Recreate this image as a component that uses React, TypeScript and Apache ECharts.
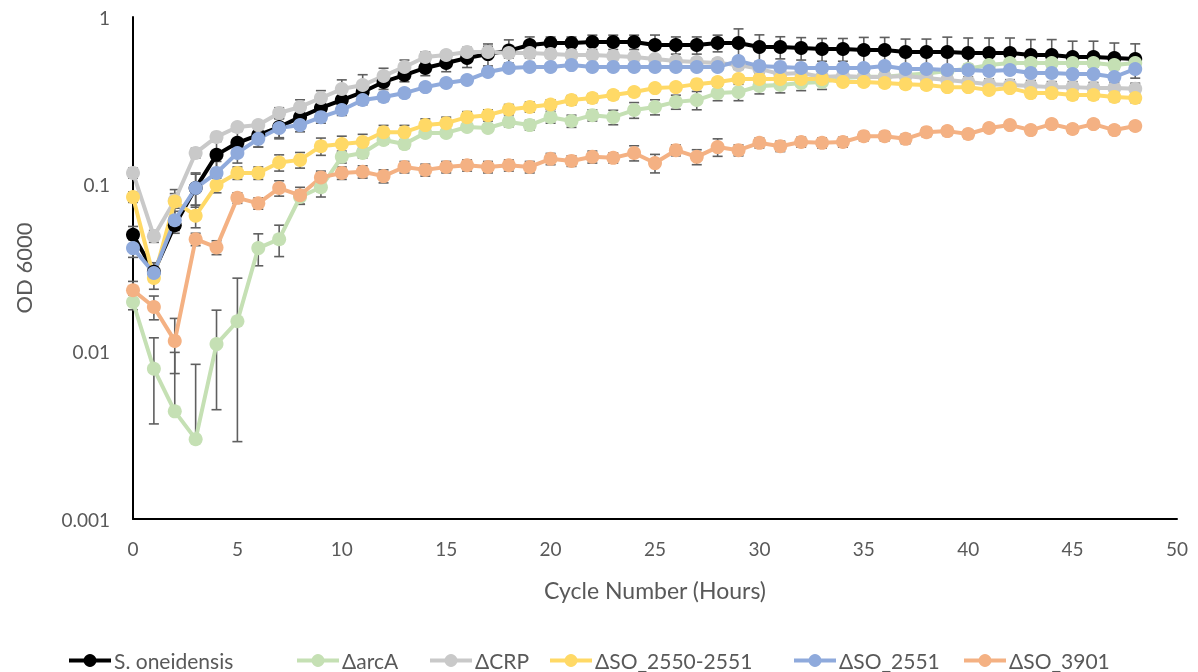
import { useEffect, useRef } from "react";
import * as echarts from "echarts";

const hours = [0, 1, 2, 3, 4, 5, 6, 7, 8, 9, 10, 11, 12, 13, 14, 15, 16, 17, 18, 19, 20, 21, 22, 23, 24, 25, 26, 27, 28, 29, 30, 31, 32, 33, 34, 35, 36, 37, 38, 39, 40, 41, 42, 43, 44, 45, 46, 47, 48];

const seriesNames = ["S. oneidensis", "ΔarcA", "ΔCRP", "ΔSO_2550-2551", "ΔSO_2551", "ΔSO_3901"];
const seriesColors = ["#000000", "#C5E0B4", "#C9C9C9", "#FFD966", "#8FAADC", "#F4B183"];

const sOneidensis = [0.050, 0.030, 0.057, 0.095, 0.150, 0.177, 0.197, 0.220, 0.252, 0.286, 0.319, 0.356, 0.409, 0.450, 0.496, 0.531, 0.569, 0.600, 0.630, 0.680, 0.699, 0.699, 0.709, 0.709, 0.709, 0.680, 0.680, 0.680, 0.699, 0.699, 0.662, 0.662, 0.653, 0.644, 0.644, 0.635, 0.635, 0.618, 0.618, 0.618, 0.609, 0.609, 0.609, 0.593, 0.593, 0.577, 0.577, 0.569, 0.561];
const arcA = [0.0198, 0.0079, 0.0044, 0.0030, 0.0111, 0.0152, 0.0416, 0.047, 0.084, 0.096, 0.146, 0.154, 0.184, 0.174, 0.203, 0.203, 0.220, 0.217, 0.236, 0.226, 0.252, 0.239, 0.259, 0.252, 0.278, 0.290, 0.311, 0.319, 0.351, 0.356, 0.387, 0.392, 0.403, 0.409, 0.432, 0.440, 0.440, 0.450, 0.460, 0.476, 0.490, 0.516, 0.531, 0.531, 0.531, 0.531, 0.531, 0.516, 0.531];
const crp = [0.117, 0.049, 0.080, 0.154, 0.192, 0.220, 0.226, 0.267, 0.290, 0.328, 0.371, 0.392, 0.444, 0.503, 0.577, 0.593, 0.618, 0.618, 0.609, 0.609, 0.601, 0.593, 0.593, 0.585, 0.577, 0.561, 0.546, 0.538, 0.531, 0.516, 0.490, 0.456, 0.463, 0.438, 0.444, 0.438, 0.438, 0.444, 0.432, 0.420, 0.409, 0.397, 0.392, 0.387, 0.381, 0.381, 0.376, 0.376, 0.372];
const so2550 = [0.084, 0.0276, 0.079, 0.065, 0.099, 0.117, 0.117, 0.135, 0.140, 0.169, 0.174, 0.179, 0.205, 0.205, 0.226, 0.232, 0.252, 0.259, 0.280, 0.290, 0.300, 0.319, 0.328, 0.342, 0.356, 0.376, 0.381, 0.397, 0.409, 0.426, 0.426, 0.426, 0.426, 0.426, 0.409, 0.409, 0.403, 0.397, 0.392, 0.381, 0.381, 0.366, 0.376, 0.351, 0.351, 0.342, 0.342, 0.333, 0.328];
const so2551 = [0.0416, 0.0295, 0.061, 0.095, 0.117, 0.154, 0.187, 0.217, 0.226, 0.252, 0.278, 0.319, 0.333, 0.351, 0.381, 0.403, 0.420, 0.469, 0.496, 0.503, 0.503, 0.516, 0.503, 0.503, 0.503, 0.503, 0.503, 0.503, 0.503, 0.546, 0.509, 0.503, 0.496, 0.496, 0.496, 0.496, 0.509, 0.489, 0.489, 0.482, 0.482, 0.476, 0.482, 0.463, 0.463, 0.456, 0.456, 0.438, 0.489];
const so3901 = [0.0233, 0.0185, 0.0116, 0.047, 0.042, 0.083, 0.077, 0.095, 0.086, 0.110, 0.117, 0.119, 0.112, 0.127, 0.122, 0.127, 0.130, 0.127, 0.130, 0.127, 0.142, 0.138, 0.146, 0.144, 0.154, 0.134, 0.160, 0.146, 0.167, 0.160, 0.177, 0.169, 0.179, 0.177, 0.179, 0.194, 0.194, 0.187, 0.205, 0.208, 0.200, 0.217, 0.226, 0.211, 0.229, 0.214, 0.229, 0.211, 0.223];

// standard deviations (error bars)
const sOneidensisErr = [0.006, 0.004, 0.006, 0.022, 0.03, 0.03, 0.03, 0.03, 0.03, 0.03, 0.035, 0.035, 0.04, 0.04, 0.05, 0.06, 0.07, 0.09, 0.1, 0.08, 0.06, 0.06, 0.07, 0.07, 0.07, 0.1, 0.08, 0.08, 0.08, 0.15, 0.12, 0.1, 0.1, 0.1, 0.1, 0.12, 0.12, 0.12, 0.12, 0.14, 0.14, 0.14, 0.14, 0.14, 0.14, 0.14, 0.14, 0.13, 0.13];
const arcAErr = [0.002, 0.0042, 0.0055, 0.0054, 0.0066, 0.0123, 0.009, 0.01, 0.008, 0.012, 0.012, 0.01, 0.01, 0.01, 0.01, 0.01, 0.01, 0.01, 0.015, 0.015, 0.02, 0.02, 0.02, 0.025, 0.03, 0.03, 0.03, 0.04, 0.035, 0.04, 0.04, 0.04, 0.04, 0.04, 0.04, 0.04, 0.04, 0.04, 0.03, 0.03, 0.03, 0.03, 0.03, 0.03, 0.03, 0.03, 0.03, 0.03, 0.03];
const crpErr = [0.008, 0.004, 0.008, 0.01, 0.01, 0.01, 0.01, 0.02, 0.03, 0.035, 0.05, 0.06, 0.05, 0.05, 0.04, 0.03, 0.04, 0.05, 0.04, 0.04, 0.03, 0.03, 0.03, 0.03, 0.03, 0.03, 0.03, 0.03, 0.03, 0.03, 0.03, 0.03, 0.03, 0.03, 0.03, 0.03, 0.03, 0.03, 0.03, 0.03, 0.03, 0.03, 0.03, 0.03, 0.03, 0.03, 0.03, 0.03, 0.03];
const so2550Err = [0.006, 0.004, 0.014, 0.01, 0.01, 0.01, 0.01, 0.015, 0.015, 0.02, 0.02, 0.02, 0.02, 0.02, 0.02, 0.02, 0.02, 0.02, 0.02, 0.02, 0.02, 0.02, 0.02, 0.02, 0.02, 0.02, 0.02, 0.02, 0.02, 0.02, 0.02, 0.02, 0.02, 0.02, 0.02, 0.02, 0.02, 0.02, 0.02, 0.02, 0.02, 0.02, 0.02, 0.02, 0.02, 0.02, 0.02, 0.02, 0.02];
const so2551Err = [0.005, 0.003, 0.008, 0.02, 0.02, 0.02, 0.02, 0.03, 0.02, 0.02, 0.02, 0.02, 0.02, 0.02, 0.02, 0.02, 0.02, 0.02, 0.02, 0.02, 0.02, 0.02, 0.02, 0.02, 0.02, 0.02, 0.02, 0.02, 0.02, 0.02, 0.02, 0.02, 0.02, 0.02, 0.02, 0.02, 0.02, 0.02, 0.02, 0.02, 0.02, 0.02, 0.02, 0.02, 0.02, 0.02, 0.02, 0.02, 0.02];
const so3901Err = [0.003, 0.003, 0.0042, 0.004, 0.004, 0.006, 0.006, 0.01, 0.01, 0.01, 0.01, 0.01, 0.01, 0.01, 0.01, 0.01, 0.01, 0.01, 0.01, 0.01, 0.011, 0.01, 0.012, 0.01, 0.016, 0.017, 0.012, 0.015, 0.02, 0.012, 0.012, 0.012, 0.012, 0.012, 0.012, 0.012, 0.012, 0.012, 0.012, 0.012, 0.012, 0.012, 0.012, 0.012, 0.012, 0.012, 0.012, 0.012, 0.012];

const yTickLabels = ["0.001", "0.01", "0.1", "1"];
const xAxisTitle = "Cycle Number (Hours)";
const yAxisTitle = "OD 6000";

const allValues = [sOneidensis, arcA, crp, so2550, so2551, so3901];
const allErrors = [sOneidensisErr, arcAErr, crpErr, so2550Err, so2551Err, so3901Err];
const legendLefts = [62, 290, 423, 543, 787, 957];

const FONT = "Lato, 'Liberation Sans', sans-serif";
const TEXT_COLOR = "#595959";
const ERR_COLOR = "#5f5f5f";

function errorRender(params: any, api: any) {
  const x = api.value(0);
  const v = api.value(1);
  const e = api.value(2);
  const hi = api.coord([x, v + e]);
  const hasLow = v - e > 0;
  const lo = hasLow ? api.coord([x, v - e]) : api.coord([x, v]);
  const half = 5;
  const style = { stroke: ERR_COLOR, lineWidth: 1.6 };
  const children: any[] = [
    { type: "line", shape: { x1: hi[0], y1: hi[1], x2: lo[0], y2: lo[1] }, style },
    { type: "line", shape: { x1: hi[0] - half, y1: hi[1], x2: hi[0] + half, y2: hi[1] }, style },
  ];
  if (hasLow) {
    children.push({ type: "line", shape: { x1: lo[0] - half, y1: lo[1], x2: lo[0] + half, y2: lo[1] }, style });
  }
  return { type: "group", children };
}

export default function App() {
  const ref = useRef<HTMLDivElement>(null);
  useEffect(() => {
    const chart = echarts.init(ref.current!, null, { renderer: "svg" });
    const series: any[] = [];
    seriesNames.forEach((name, k) => {
      const vals = allValues[k];
      const errs = allErrors[k];
      series.push({
        type: "custom",
        name: name + " error",
        renderItem: errorRender,
        encode: { x: 0, y: 1 },
        data: hours.map((h, i) => [h, vals[i], errs[i]]),
        silent: true,
      });
      series.push({
        type: "line",
        name,
        data: hours.map((h, i) => [h, vals[i]]),
        symbol: "circle",
        symbolSize: 14,
        showSymbol: true,
        lineStyle: { width: 4, color: seriesColors[k] },
        itemStyle: { color: seriesColors[k] },
        color: seriesColors[k],
      });
    });

    chart.setOption({
      animation: false,
      textStyle: { fontFamily: FONT },
      grid: { left: 133, right: 21, top: 17, bottom: 153, containLabel: false },
      legend: seriesNames.map((name, k) => ({
        data: [name],
        left: legendLefts[k],
        top: 645,
        itemWidth: 42,
        itemHeight: 16,
        itemGap: 0,
        itemStyle: { borderWidth: 0 },
        lineStyle: { width: 4 },
        textStyle: { fontSize: 21, color: TEXT_COLOR, fontFamily: FONT, padding: [0, 0, 0, -2] },
      })),
      xAxis: {
        type: "value",
        min: 0,
        max: 50,
        interval: 5,
        name: xAxisTitle,
        nameLocation: "middle",
        nameGap: 59,
        nameTextStyle: { fontSize: 23, color: TEXT_COLOR, fontFamily: FONT },
        axisLine: { show: true, onZero: false, lineStyle: { color: "#000", width: 2 } },
        axisTick: { show: false },
        splitLine: { show: false },
        axisLabel: { fontSize: 19, color: TEXT_COLOR, margin: 20, fontFamily: FONT },
      },
      yAxis: {
        type: "log",
        logBase: 10,
        min: 0.001,
        max: 1,
        name: yAxisTitle,
        nameLocation: "middle",
        nameGap: 99,
        nameTextStyle: { fontSize: 22, color: TEXT_COLOR, fontFamily: FONT },
        axisLine: { show: true, lineStyle: { color: "#000", width: 2 } },
        axisTick: { show: false },
        splitLine: { show: false },
        minorTick: { show: false },
        axisLabel: {
          fontSize: 19,
          color: TEXT_COLOR,
          margin: 23,
          fontFamily: FONT,
          formatter: (v: number) => {
            const idx = Math.round(Math.log10(v)) + 3;
            return yTickLabels[idx] ?? String(v);
          },
        },
      },
      series,
    });
    return () => chart.dispose();
  }, []);
  return <div ref={ref} style={{ position: "fixed", left: 0, top: 0, width: 1198, height: 672 }} />;
}
